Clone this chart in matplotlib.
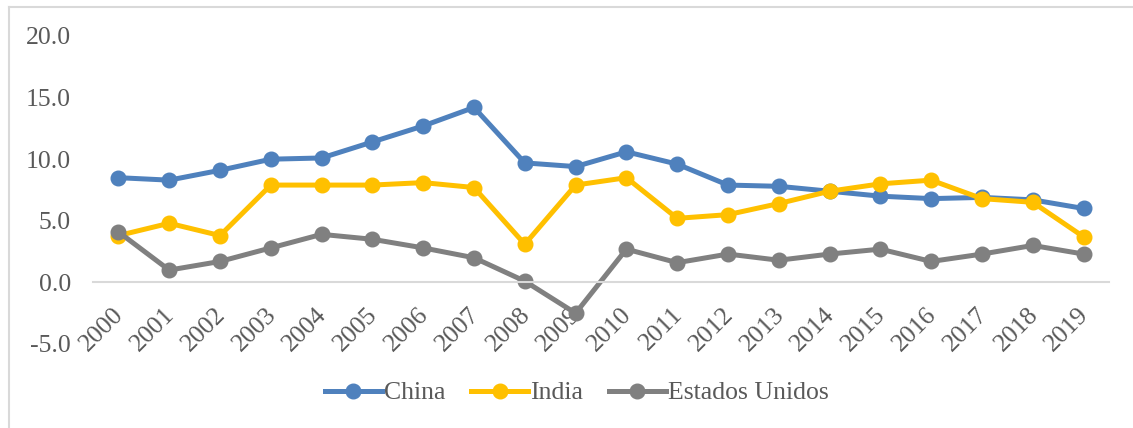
import matplotlib
matplotlib.use("Agg")
import matplotlib.pyplot as plt
import matplotlib.transforms as mtransforms
from matplotlib.lines import Line2D

years = [str(y) for y in range(2000, 2020)]
china = [8.5, 8.3, 9.1, 10.0, 10.1, 11.4, 12.7, 14.2, 9.7, 9.4, 10.6, 9.6, 7.9, 7.8, 7.4, 7.0, 6.8, 6.9, 6.7, 6.0]
india = [3.8, 4.8, 3.8, 7.9, 7.9, 7.9, 8.1, 7.7, 3.1, 7.9, 8.5, 5.2, 5.5, 6.4, 7.4, 8.0, 8.3, 6.8, 6.5, 3.7]
usa = [4.1, 1.0, 1.7, 2.8, 3.9, 3.5, 2.8, 2.0, 0.1, -2.5, 2.7, 1.6, 2.3, 1.8, 2.3, 2.7, 1.7, 2.3, 3.0, 2.3]
series_names = ["China", "India", "Estados Unidos"]
colors = ["#4F81BD", "#FFC000", "#808080"]
yticks = [-5, 0, 5, 10, 15, 20]

plt.rcParams['font.family'] = ['Liberation Serif', 'DejaVu Serif']
txt = "#595959"

fig = plt.figure(figsize=(11.33, 4.28), dpi=100)
ax = fig.add_axes([93/1133, 1-344/428, (1109-93)/1133, (344-36)/428])

for s in ['left', 'right', 'top']:
    ax.spines[s].set_visible(False)
ax.spines['bottom'].set_position(('data', 0))
ax.spines['bottom'].set_color('#D9D9D9')
ax.spines['bottom'].set_linewidth(1.5)

x = list(range(len(years)))
for vals, name, c in zip([china, india, usa], series_names, colors):
    ax.plot(x, vals, color=c, lw=3.6, marker='o', ms=10.5, label=name,
            solid_capstyle='round', solid_joinstyle='round')

ax.set_xlim(-0.5, len(years) - 0.5)
ax.set_ylim(-5, 20)
ax.set_yticks(yticks)
ax.set_yticklabels([f"{v:.1f}" for v in yticks], color=txt, fontsize=18.5)
ax.tick_params(axis='y', length=0, pad=16)
ax.set_xticks(x)
ax.set_xticklabels(years, rotation=45, ha='right', va='top', rotation_mode='anchor',
                   color=txt, fontsize=18.5)
ax.tick_params(axis='x', length=0, pad=15)
shift = mtransforms.ScaledTranslation(-6/100, 0, fig.dpi_scale_trans)
for lab in ax.get_xticklabels():
    lab.set_transform(lab.get_transform() + shift)

handles = [Line2D([], [], color=c, lw=3.6, marker='o', ms=10.5) for c in colors]
fig.legend(handles, series_names, loc='center', bbox_to_anchor=(577/1133, 1-393/428),
           ncol=3, frameon=False, fontsize=18.5, handlelength=2.2, handletextpad=0.1,
           columnspacing=1.0, labelcolor=txt)

# chart border (left and top)
fig.add_artist(Line2D([8.5/1133, 8.5/1133], [0, 1-6.5/428], transform=fig.transFigure,
                      color='#D9D9D9', lw=1.5))
fig.add_artist(Line2D([8.5/1133, 1], [1-6.5/428, 1-6.5/428], transform=fig.transFigure,
                      color='#D9D9D9', lw=1.5))

fig.savefig("out.png", dpi=100)
